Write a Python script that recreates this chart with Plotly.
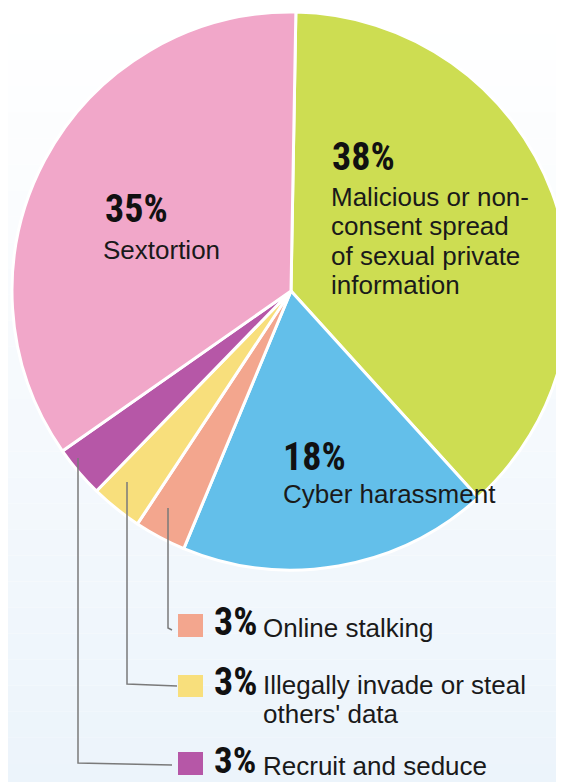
import plotly.graph_objects as go

# ---- data ----
categories = [
    "Malicious or non-consent spread of sexual private information",
    "Cyber harassment",
    "Online stalking",
    "Illegally invade or steal others' data",
    "Recruit and seduce",
    "Sextortion",
]
values = [38, 18, 3, 3, 3, 35]
colors = ["#cddd52", "#63bfea", "#f3a68e", "#f8df7c", "#b657a7", "#f1a7c9"]

W, H = 564, 782
OFF = 8  # default page body margin of the html page


def px(x):
    return (x - OFF) / W


def py(y):
    return 1 - (y - OFF) / H


fig = go.Figure()

# pie: centre ~ (291, 291), radius ~279 px (page pixels)
fig.add_trace(go.Pie(
    labels=categories,
    values=values,
    sort=False,
    direction="clockwise",
    rotation=1,
    marker=dict(colors=colors, line=dict(color="#ffffff", width=3)),
    textinfo="none",
    hoverinfo="label+percent",
    domain=dict(x=[px(12), px(570)], y=[py(570), py(12)]),
    showlegend=False,
))

shapes = []
# soft background gradient (white at top to pale blue at bottom)
n = 30
top = (255, 255, 255)
bot = (236, 244, 251)
for i in range(n):
    t = i / (n - 1)
    c = tuple(int(round(top[k] + (bot[k] - top[k]) * t)) for k in range(3))
    shapes.append(dict(
        type="rect", xref="paper", yref="paper", layer="below",
        x0=0, x1=1, y0=1 - (i + 1) / n, y1=1 - i / n,
        fillcolor="rgb(%d,%d,%d)" % c, line=dict(width=0),
    ))

# leader lines from the three small slices to legend keys
leaders = [
    [(168, 508), (168, 628), (172, 630)],
    [(127, 482), (127, 684), (177, 686)],
    [(78, 458), (78, 763), (172, 765)],
]
for pts in leaders:
    path = "M " + " L ".join("%f,%f" % (px(x), py(y)) for x, y in pts)
    shapes.append(dict(type="path", xref="paper", yref="paper", path=path,
                       line=dict(color="#7a7a7a", width=1.5)))

# legend key squares
key_rows = [(614, 637), (675, 697), (752, 775)]
for (y0, y1), col in zip(key_rows, colors[2:5]):
    shapes.append(dict(type="rect", xref="paper", yref="paper",
                       x0=px(178), x1=px(203), y0=py(y1), y1=py(y0),
                       fillcolor=col, line=dict(width=0)))

fig.update_layout(shapes=shapes)

PCT_FONT = dict(family="Roboto Condensed, Roboto, sans-serif",
                size=38, color="#111111", weight="bold")
PCT_FONT_LAST = dict(PCT_FONT, size=37)
TXT_FONT = dict(family="Liberation Sans, Arial, sans-serif", size=26, color="#1a1a1a")

annotations = []


def add(text, x, y, font):
    annotations.append(dict(text=text, x=px(x), y=py(y), xref="paper", yref="paper",
                            xanchor="left", yanchor="middle", showarrow=False,
                            font=font, borderpad=0))


# big slice labels
add(f"{values[0]}%", 331, 157, PCT_FONT)
for i, line in enumerate(["Malicious or non-", "consent spread", "of sexual private", "information"]):
    add(line, 330, 197 + i * 29.3, TXT_FONT)

add(f"{values[5]}%", 104, 209, PCT_FONT)
add("Sextortion", 102, 249.5, TXT_FONT)

add(f"{values[1]}%", 282, 457, PCT_FONT)
add("Cyber harassment", 282, 493.5, TXT_FONT)

# small-slice legend rows
add(f"{values[2]}%", 213, 622, PCT_FONT)
add("Online stalking", 262, 628, TXT_FONT)

add(f"{values[3]}%", 213, 682, PCT_FONT)
add("Illegally invade or steal", 262, 685, TXT_FONT)
add("others' data", 262, 714, TXT_FONT)

add(f"{values[4]}%", 213, 760, PCT_FONT_LAST)
add("Recruit and seduce", 262, 766, TXT_FONT)

fig.update_layout(
    annotations=annotations,
    width=W, height=H,
    margin=dict(l=0, r=0, t=0, b=0),
    paper_bgcolor="#ffffff",
    showlegend=False,
)

fig.write_html("out.html")
